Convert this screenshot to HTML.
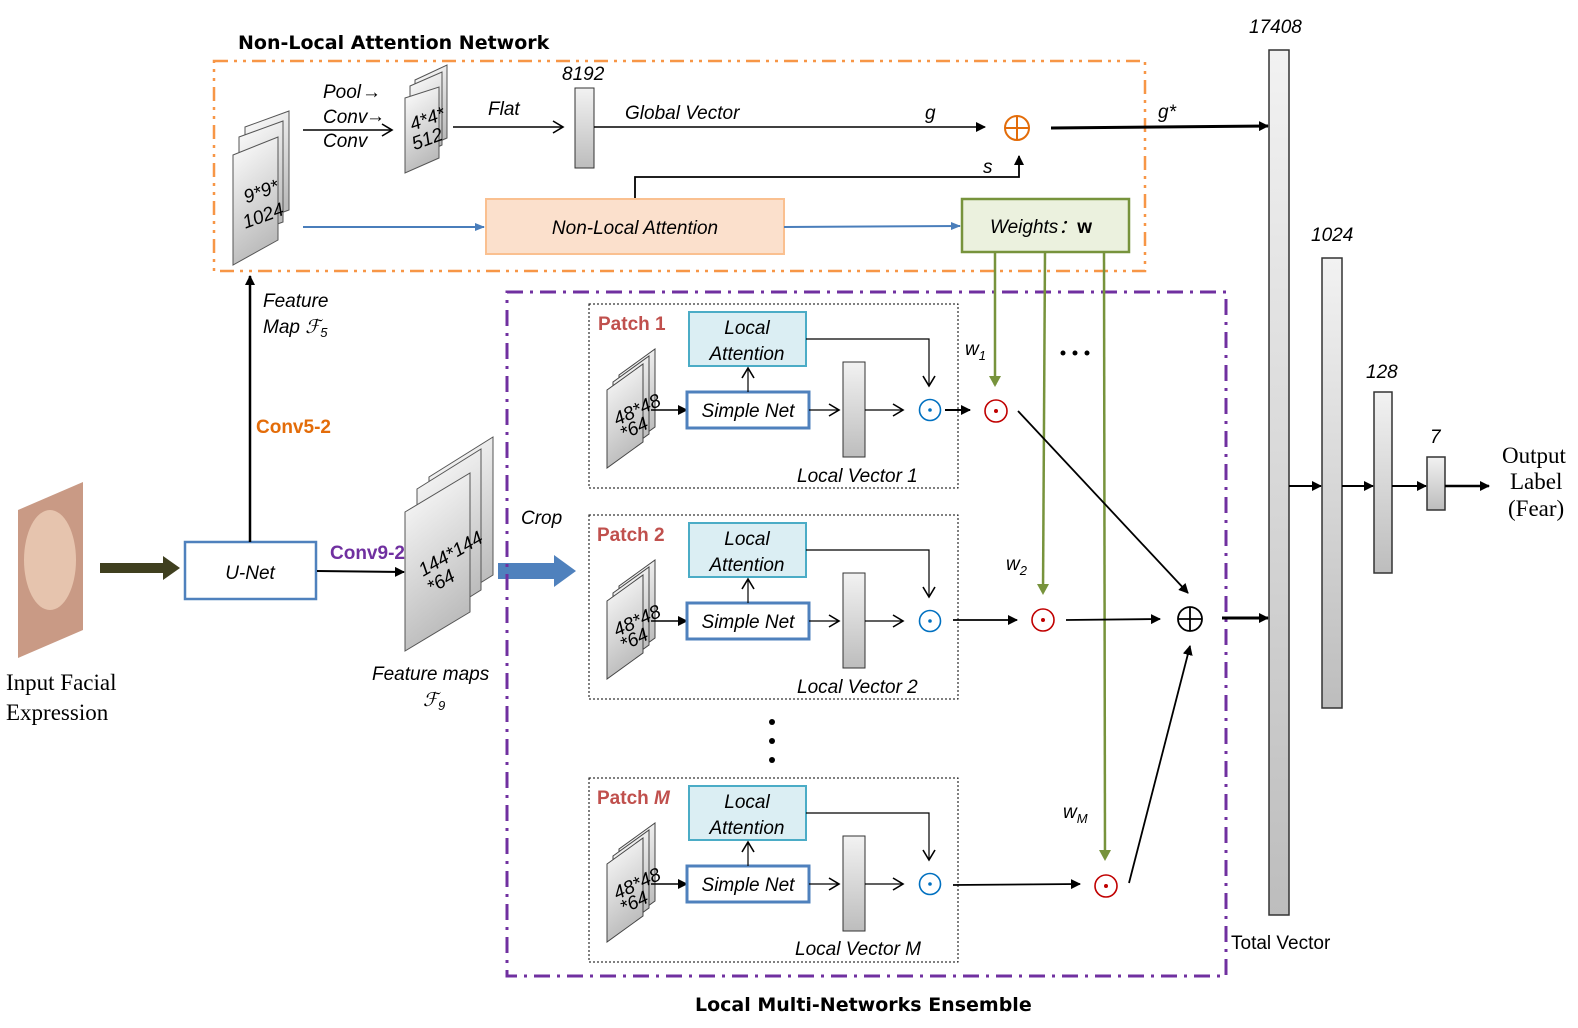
<!DOCTYPE html><html><head><style>body{margin:0;background:#fff}svg{display:block}
text{font-family:"Liberation Sans",sans-serif;font-style:italic;font-size:19px}
.r{font-family:"Liberation Serif",serif;font-style:normal;font-size:23px}
.b{font-style:normal;font-weight:bold}
</style></head><body>
<svg width="1578" height="1028" viewBox="0 0 1578 1028" xmlns="http://www.w3.org/2000/svg">
<defs>
<linearGradient id="g" x1="0" y1="0" x2="0" y2="1"><stop offset="0" stop-color="#f2f2f2"/><stop offset="1" stop-color="#bdbdbd"/></linearGradient>
<linearGradient id="gs" x1="0" y1="0" x2="0.3" y2="1"><stop offset="0" stop-color="#fff"/><stop offset="1" stop-color="#bbb"/></linearGradient>
<marker id="a" markerWidth="10" markerHeight="10" refX="9" refY="5" orient="auto" markerUnits="userSpaceOnUse"><path d="M0,0 L10,5 L0,10 z" fill="#000"/></marker>
<marker id="o" markerWidth="14" markerHeight="14" refX="12" refY="7" orient="auto" markerUnits="userSpaceOnUse"><path d="M2,1 L12,7 L2,13" fill="none" stroke="#000" stroke-width="1.6"/></marker>
<marker id="bl" markerWidth="10" markerHeight="10" refX="9" refY="5" orient="auto" markerUnits="userSpaceOnUse"><path d="M0,1 L10,5 L0,9 z" fill="#4a7ebb"/></marker>
<g id="sm"><polygon points="0,26 36,0 36,78 0,104" fill="url(#gs)" stroke="#444" stroke-width="1"/></g>
<g id="patch">
<rect x="0" y="0" width="369" height="184" fill="none" stroke="#000" stroke-dasharray="2,2"/>
<use href="#sm" x="30" y="45"/><use href="#sm" x="24" y="52"/><use href="#sm" x="18" y="60"/>
<text x="24" y="117" font-size="11" transform="rotate(-25 37 110)">48*48</text>
<text x="32" y="133" font-size="11" transform="rotate(-25 40 128)">*64</text>
<line x1="62" y1="106" x2="98" y2="106" stroke="#000" stroke-width="1.5" marker-end="url(#a)"/>
<rect x="100" y="8" width="117" height="54" fill="#dbeef3" stroke="#4bacc6" stroke-width="2"/>
<text x="158" y="30" text-anchor="middle">Local</text><text x="158" y="56" text-anchor="middle">Attention</text>
<rect x="98" y="88" width="122" height="36" fill="#fff" stroke="#4f81bd" stroke-width="3"/>
<text x="159" y="113" text-anchor="middle">Simple Net</text>
<line x1="159" y1="88" x2="159" y2="64" stroke="#000" stroke-width="1.2" marker-end="url(#o)"/>
<polyline points="217,35 340,35 340,82" fill="none" stroke="#000" stroke-width="1.2" marker-end="url(#o)"/>
<line x1="220" y1="106" x2="250" y2="106" stroke="#000" stroke-width="1.2" marker-end="url(#o)"/>
<rect x="254" y="58" width="22" height="95" fill="url(#g)" stroke="#333"/>
<line x1="276" y1="106" x2="314" y2="106" stroke="#000" stroke-width="1.2" marker-end="url(#o)"/>
<circle cx="341" cy="106" r="10.5" fill="none" stroke="#0070c0" stroke-width="1.6"/><circle cx="341" cy="106" r="1.8" fill="#0070c0"/>
</g>
</defs>
<polygon points="18,510 83,482 83,630 18,658" fill="#c99a85"/>
<ellipse cx="50" cy="560" rx="26" ry="50" fill="#e6c4ae"/>
<text x="6" y="690" class="r">Input Facial</text><text x="6" y="720" class="r">Expression</text>
<line x1="100" y1="568" x2="165" y2="568" stroke="#3f3f1f" stroke-width="10"/><polygon points="163,556 180,568 163,580" fill="#3f3f1f"/>
<rect x="185" y="542" width="131" height="57" fill="#fff" stroke="#4f81bd" stroke-width="2.5"/>
<text x="250" y="579" text-anchor="middle" font-size="21">U-Net</text>
<line x1="250" y1="542" x2="250" y2="276" stroke="#000" stroke-width="2.5" marker-end="url(#a)"/>
<text x="256" y="433" class="b" fill="#e36c09" font-size="18">Conv5-2</text>
<text x="263" y="307">Feature</text><text x="263" y="333">Map ℱ<tspan font-size="13" dy="4">5</tspan></text>
<line x1="317" y1="571" x2="404" y2="572" stroke="#000" stroke-width="2" marker-end="url(#a)"/>
<text x="330" y="559" class="b" fill="#7030a0" font-size="18">Conv9-2</text>
<polygon points="429,477 493,437 493,575 429,615" fill="url(#gs)" stroke="#555"/>
<polygon points="417,489 481,449 481,590 417,630" fill="url(#gs)" stroke="#555"/>
<polygon points="405,512 470,473 470,612 405,651" fill="url(#gs)" stroke="#555"/>
<text x="414" y="567" font-size="16" transform="rotate(-30 437 555)">144*144</text>
<text x="428" y="590" font-size="16" transform="rotate(-30 437 585)">*64</text>
<text x="372" y="680">Feature maps</text><text x="423" y="706">ℱ<tspan font-size="13" dy="4">9</tspan></text>
<text x="521" y="524">Crop</text>
<rect x="498" y="563" width="58" height="16" fill="#4f81bd"/><polygon points="554,555 576,571 554,587" fill="#4f81bd"/>
<text x="238" y="49" class="b" font-size="20" style="font-family:'DejaVu Sans'">Non-Local Attention Network</text>
<rect x="214" y="61" width="931" height="210" fill="none" stroke="#f79646" stroke-width="2.5" stroke-dasharray="14,6,3,6,3,6"/>
<polygon points="245,127 289,111 289,210 245,226" fill="url(#gs)" stroke="#555"/>
<polygon points="239,137 283,121 283,222 239,238" fill="url(#gs)" stroke="#555"/>
<polygon points="233,155 278,137 278,240 233,265" fill="url(#gs)" stroke="#555"/>
<text x="244" y="200" font-size="13" transform="rotate(-20 255 195)">9*9*</text>
<text x="243" y="225" font-size="13" transform="rotate(-20 255 220)">1024</text>
<line x1="303" y1="130" x2="392" y2="130" stroke="#000" stroke-width="1.5" marker-end="url(#o)"/>
<text x="323" y="98" font-size="17">Pool</text><text x="323" y="123" font-size="17">Conv</text><text x="323" y="147" font-size="17">Conv</text>
<text x="362" y="98" font-size="17" style="font-style:normal">→</text><text x="366" y="122" font-size="17" style="font-style:normal">→</text>
<polygon points="415,80 447,65 447,138 415,152" fill="url(#gs)" stroke="#555"/>
<polygon points="410,86 442,72 442,145 410,160" fill="url(#gs)" stroke="#555"/>
<polygon points="405,98 439,87 439,158 405,173" fill="url(#gs)" stroke="#555"/>
<text x="411" y="128" font-size="11" transform="rotate(-20 420 125)">4*4*</text>
<text x="413" y="148" font-size="11" transform="rotate(-20 420 145)">512</text>
<line x1="453" y1="127" x2="563" y2="127" stroke="#000" stroke-width="1.5" marker-end="url(#o)"/>
<text x="488" y="115">Flat</text>
<text x="562" y="80">8192</text>
<rect x="575" y="88" width="19" height="80" fill="url(#g)" stroke="#333"/>
<line x1="594" y1="127" x2="985" y2="127" stroke="#000" stroke-width="1.5" marker-end="url(#a)"/>
<text x="625" y="119">Global Vector</text><text x="925" y="119">g</text>
<circle cx="1017" cy="128" r="12" fill="none" stroke="#e36c09" stroke-width="2"/>
<line x1="1005" y1="128" x2="1029" y2="128" stroke="#e36c09" stroke-width="2"/><line x1="1017" y1="116" x2="1017" y2="140" stroke="#e36c09" stroke-width="2"/>
<polyline points="635,199 635,177 1019,177 1019,156" fill="none" stroke="#000" stroke-width="1.8" marker-end="url(#a)"/>
<text x="983" y="173">s</text>
<line x1="1051" y1="128" x2="1268" y2="126" stroke="#000" stroke-width="3" marker-end="url(#a)"/>
<text x="1158" y="118">g*</text>
<line x1="303" y1="227" x2="484" y2="227" stroke="#4a7ebb" stroke-width="2" marker-end="url(#bl)"/>
<rect x="486" y="199" width="298" height="55" fill="#fbe0cc" stroke="#fac090" stroke-width="2"/>
<text x="635" y="234" text-anchor="middle">Non-Local Attention</text>
<line x1="784" y1="227" x2="960" y2="226" stroke="#4a7ebb" stroke-width="2" marker-end="url(#bl)"/>
<rect x="962" y="199" width="167" height="53" fill="#ebf1de" stroke="#77933c" stroke-width="2.5"/>
<text x="990" y="233">Weights：<tspan class="b">w</tspan></text>
<rect x="507" y="292" width="719" height="684" fill="none" stroke="#7030a0" stroke-width="3" stroke-dasharray="16,7,3,7"/>
<text x="695" y="1011" class="b" font-size="20" style="font-family:'DejaVu Sans'">Local Multi-Networks Ensemble</text>
<use href="#patch" x="589" y="304"/>
<use href="#patch" x="589" y="515"/>
<use href="#patch" x="589" y="778"/>
<text x="598" y="330" class="b" fill="#c0504d" font-size="18">Patch 1</text>
<text x="597" y="541" class="b" fill="#c0504d" font-size="18">Patch 2</text>
<text x="597" y="804" class="b" fill="#c0504d" font-size="18">Patch <tspan font-style="italic">M</tspan></text>
<text x="797" y="482">Local Vector 1</text>
<text x="797" y="693">Local Vector 2</text>
<text x="795" y="955">Local Vector M</text>
<circle cx="772" cy="722" r="3" fill="#000"/><circle cx="772" cy="741" r="3" fill="#000"/><circle cx="772" cy="760" r="3" fill="#000"/>
<circle cx="1063" cy="353" r="2.5" fill="#000"/><circle cx="1075" cy="353" r="2.5" fill="#000"/><circle cx="1087" cy="353" r="2.5" fill="#000"/>
<line x1="995" y1="252" x2="995" y2="385" stroke="#77933c" stroke-width="2.5"/><polygon points="989,376 1001,376 995,387" fill="#77933c"/>
<line x1="1045" y1="252" x2="1043" y2="592" stroke="#77933c" stroke-width="2.5"/><polygon points="1037,584 1049,584 1043,595" fill="#77933c"/>
<line x1="1104" y1="252" x2="1105" y2="858" stroke="#77933c" stroke-width="2.5"/><polygon points="1099,850 1111,850 1105,861" fill="#77933c"/>
<text x="965" y="355" font-size="20">w<tspan font-size="13" dy="5">1</tspan></text>
<text x="1006" y="570" font-size="20">w<tspan font-size="13" dy="5">2</tspan></text>
<text x="1063" y="818" font-size="20">w<tspan font-size="13" dy="5">M</tspan></text>
<g fill="none" stroke="#c00000" stroke-width="1.6">
<circle cx="996" cy="411" r="11"/><circle cx="1043" cy="620" r="11"/><circle cx="1106" cy="886" r="11"/></g>
<g fill="#c00000"><circle cx="996" cy="411" r="2"/><circle cx="1043" cy="620" r="2"/><circle cx="1106" cy="886" r="2"/></g>
<line x1="945" y1="410" x2="970" y2="410" stroke="#000" stroke-width="2" marker-end="url(#a)"/>
<line x1="953" y1="620" x2="1017" y2="620" stroke="#000" stroke-width="1.8" marker-end="url(#a)"/>
<line x1="953" y1="885" x2="1080" y2="884" stroke="#000" stroke-width="1.8" marker-end="url(#a)"/>
<line x1="1018" y1="411" x2="1188" y2="593" stroke="#000" stroke-width="1.8" marker-end="url(#a)"/>
<line x1="1066" y1="620" x2="1160" y2="619" stroke="#000" stroke-width="1.8" marker-end="url(#a)"/>
<line x1="1129" y1="883" x2="1190" y2="646" stroke="#000" stroke-width="1.8" marker-end="url(#a)"/>
<circle cx="1190" cy="619" r="12" fill="none" stroke="#000" stroke-width="1.8"/>
<line x1="1178" y1="619" x2="1202" y2="619" stroke="#000" stroke-width="1.8"/><line x1="1190" y1="607" x2="1190" y2="631" stroke="#000" stroke-width="1.8"/>
<line x1="1222" y1="618" x2="1268" y2="618" stroke="#000" stroke-width="3" marker-end="url(#a)"/>
<text x="1249" y="33">17408</text>
<rect x="1269" y="50" width="20" height="865" fill="url(#g)" stroke="#333" stroke-width="1.5"/>
<text x="1231" y="949" style="font-style:normal" font-size="18">Total Vector</text>
<text x="1311" y="241">1024</text>
<rect x="1322" y="258" width="20" height="450" fill="url(#g)" stroke="#333" stroke-width="1.5"/>
<text x="1366" y="378">128</text>
<rect x="1374" y="392" width="18" height="181" fill="url(#g)" stroke="#333" stroke-width="1.5"/>
<text x="1430" y="443">7</text>
<rect x="1427" y="457" width="18" height="53" fill="url(#g)" stroke="#333" stroke-width="1.5"/>
<line x1="1289" y1="486" x2="1321" y2="486" stroke="#000" stroke-width="2" marker-end="url(#a)"/>
<line x1="1342" y1="486" x2="1373" y2="486" stroke="#000" stroke-width="2" marker-end="url(#a)"/>
<line x1="1392" y1="486" x2="1426" y2="486" stroke="#000" stroke-width="2" marker-end="url(#a)"/>
<line x1="1445" y1="486" x2="1489" y2="486" stroke="#000" stroke-width="2.5" marker-end="url(#a)"/>
<text x="1502" y="463" class="r" font-size="21">Output</text><text x="1510" y="489" class="r" font-size="21">Label</text><text x="1508" y="516" class="r" font-size="21">(Fear)</text>
</svg>
</body></html>
